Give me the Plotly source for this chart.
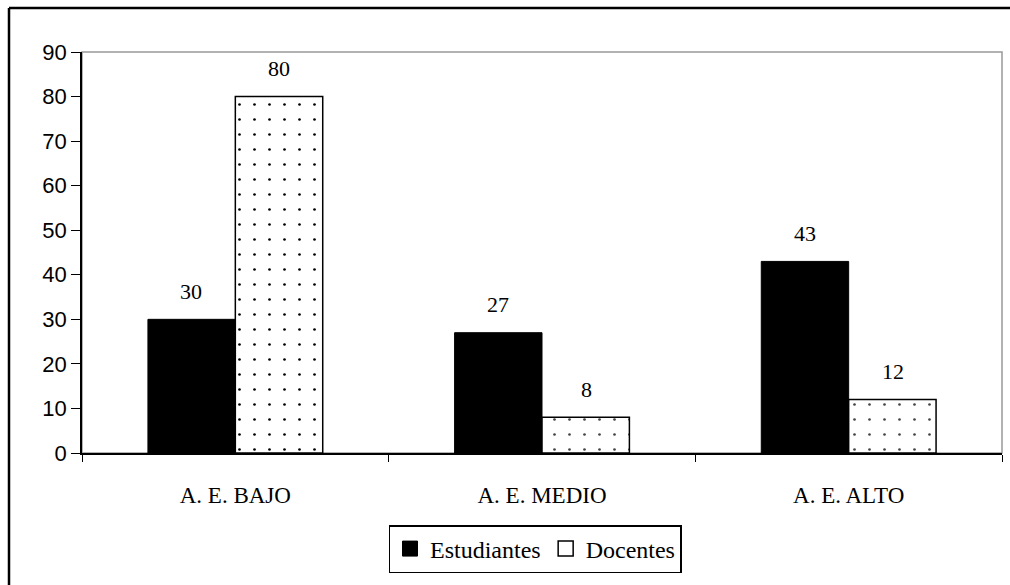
import plotly.graph_objects as go

# ---------------------------------------------------------------------
# Data
# ---------------------------------------------------------------------
categories = ["A. E. BAJO", "A. E. MEDIO", "A. E. ALTO"]
estudiantes = [30, 27, 43]
docentes = [80, 8, 12]

SERIF = "Times New Roman, Liberation Serif, serif"
SANS = "Arial, Liberation Sans, sans-serif"

# plot area in pixels of the 1010x585 window
L, R, T, B = 82, 1002, 52, 453
W, H = 1010, 585


def px_x(p):
    return (p - L) / (R - L)


def px_y(p):
    return (B - p) / (B - T)


fig = go.Figure()

fig.add_trace(go.Bar(
    name="Estudiantes", x=categories, y=estudiantes, showlegend=False,
    marker=dict(color="black", line=dict(color="black", width=1)),
))
fig.add_trace(go.Bar(
    name="Docentes", x=categories, y=docentes, showlegend=False,
    marker=dict(
        color="white",
        line=dict(color="black", width=1.5),
        pattern=dict(shape=".", fgcolor=["black", "#444444", "#444444"],
                     bgcolor="white", size=15,
                     solidity=0.025, fillmode="replace"),
    ),
))

# legend-only entries (plain squares, no pattern)
fig.add_trace(go.Scatter(name="Estudiantes", x=[None], y=[None], mode="markers",
                         marker=dict(symbol="square", size=15, color="black",
                                     line=dict(color="black", width=1))))
fig.add_trace(go.Scatter(name="Docentes", x=[None], y=[None], mode="markers",
                         marker=dict(symbol="square", size=15, color="white",
                                     line=dict(color="black", width=1.5))))

# value labels above bars
for i, cat in enumerate(categories):
    for val, shift in ((estudiantes[i], -44), (docentes[i], 44)):
        fig.add_annotation(
            x=cat, y=val, xref="x", yref="y", text=str(val),
            showarrow=False, xshift=shift, yshift=28, yanchor="middle",
            font=dict(family=SERIF, size=22, color="black"),
        )

# gray plot-area frame (top / right)
fig.add_shape(type="rect", xref="paper", yref="paper", x0=0, x1=1, y0=0, y1=1,
              line=dict(color="#999999", width=1.5), layer="below")
# outer chart border: only top and left edges are inside the picture
fig.add_shape(type="line", xref="paper", yref="paper",
              x0=px_x(9), x1=px_x(1100), y0=px_y(8), y1=px_y(8),
              line=dict(color="black", width=2.5))
fig.add_shape(type="line", xref="paper", yref="paper",
              x0=px_x(9), x1=px_x(9), y0=px_y(8), y1=px_y(700),
              line=dict(color="black", width=2.5))

fig.update_layout(
    width=W, height=H,
    margin=dict(l=L, r=W - R, t=T, b=H - B),
    paper_bgcolor="white", plot_bgcolor="white",
    barmode="group", bargap=0.43, bargroupgap=0,
    showlegend=True,
    legend=dict(
        orientation="h", x=px_x(535), xanchor="center", y=px_y(549), yanchor="middle",
        bordercolor="black", borderwidth=1.5,
        font=dict(family=SERIF, size=24, color="black"),
        itemwidth=30, traceorder="normal",
    ),
)

fig.update_xaxes(
    showline=True, linecolor="black", linewidth=1.5,
    ticks="outside", tickson="boundaries", ticklen=7, tickcolor="black",
    tickfont=dict(family=SERIF, size=23, color="black"),
    ticklabelstandoff=21, showgrid=False,
)
fig.update_yaxes(
    range=[0, 90], dtick=10, showline=True, linecolor="black", linewidth=1.5,
    ticks="outside", ticklen=9, tickcolor="black",
    tickfont=dict(family=SANS, size=22, color="black"),
    showgrid=False, zeroline=False,
)

# drop the page's default body margin so the figure fills the window
fig.write_html("out.html", config={"displayModeBar": False},
               post_script="document.body.style.margin='0';"
                           "document.body.style.overflow='hidden';")
